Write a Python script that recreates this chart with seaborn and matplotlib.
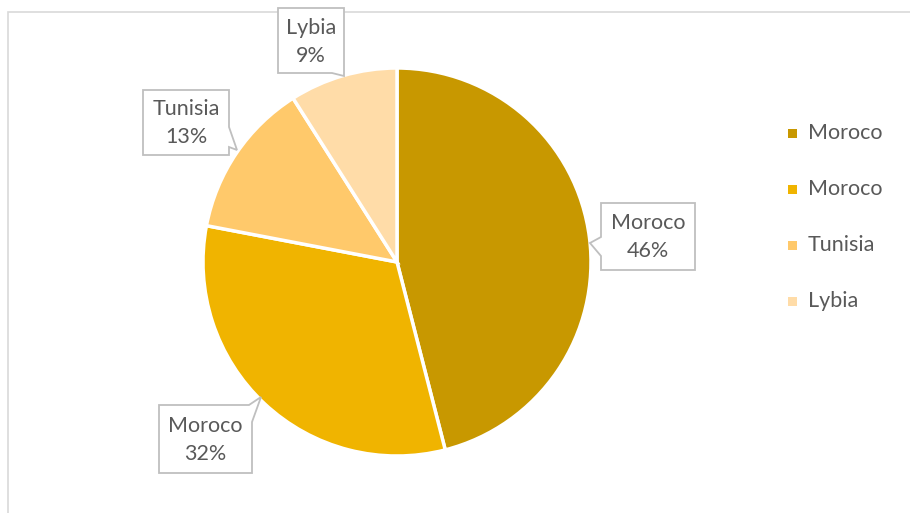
import matplotlib
matplotlib.use("Agg")
import matplotlib.pyplot as plt
from matplotlib.patches import Polygon, Rectangle
import seaborn as sns

sns.set_theme(style="white")
plt.rcParams["font.family"] = ["Lato", "DejaVu Sans"]

# Share of each country
countries = ["Moroco", "Moroco", "Tunisia", "Lybia"]
shares = [46, 32, 13, 9]
colors = ["#C89800", "#F0B400", "#FFC96B", "#FFDCA8"]

W, H = 910, 513
fig = plt.figure(figsize=(W / 100, H / 100), dpi=100)
ax = fig.add_axes([0, 0, 1, 1])

def py(y):
    # image row -> axis y
    return H - y

wedges, _ = ax.pie(
    shares,
    colors=colors,
    startangle=90,
    counterclock=False,
    center=(397, py(262)),
    radius=194,
    wedgeprops=dict(edgecolor="white", linewidth=2.5),
    frame=True,
)
ax.set_xlim(0, W)
ax.set_ylim(0, H)
ax.set_aspect("equal")
ax.axis("off")

# chart area border
ax.add_patch(Rectangle((8, py(515)), 910, 503, fill=False,
                       edgecolor="#D9D9D9", linewidth=1.2))

# callout outlines (image coordinates)
callouts = [
    [(601, 203), (695, 203), (695, 270), (601, 270), (601, 256), (590, 243), (601, 237)],
    [(159, 405), (249, 405), (261, 397), (252, 422), (252, 473), (159, 473)],
    [(143, 90), (229, 90), (229, 127), (237, 150), (229, 147), (229, 155), (143, 155)],
    [(278, 8), (344, 8), (344, 76), (332, 73), (278, 73)],
]
centers = [(648, 237), (205, 440), (186, 123), (311, 42)]

for pts, (cx, cy), name, val in zip(callouts, centers, countries, shares):
    ax.add_patch(Polygon([(x, py(y)) for x, y in pts], closed=True,
                         facecolor="white", edgecolor="#BFBFBF", linewidth=1.3,
                         joinstyle="miter", zorder=3))
    ax.text(cx, py(cy), f"{name}\n{val}%", ha="center", va="center",
            fontsize=15.5, color="#595959", linespacing=1.5, zorder=4)

# legend
for i, (name, col) in enumerate(zip(countries, colors)):
    y = 133 + i * 56
    ax.add_patch(Rectangle((788, py(y) - 4.5), 9, 9, facecolor=col,
                           edgecolor="none"))
    ax.text(808, py(y), name, ha="left", va="center", fontsize=15.5,
            color="#595959")

fig.savefig("out.png", dpi=100)
